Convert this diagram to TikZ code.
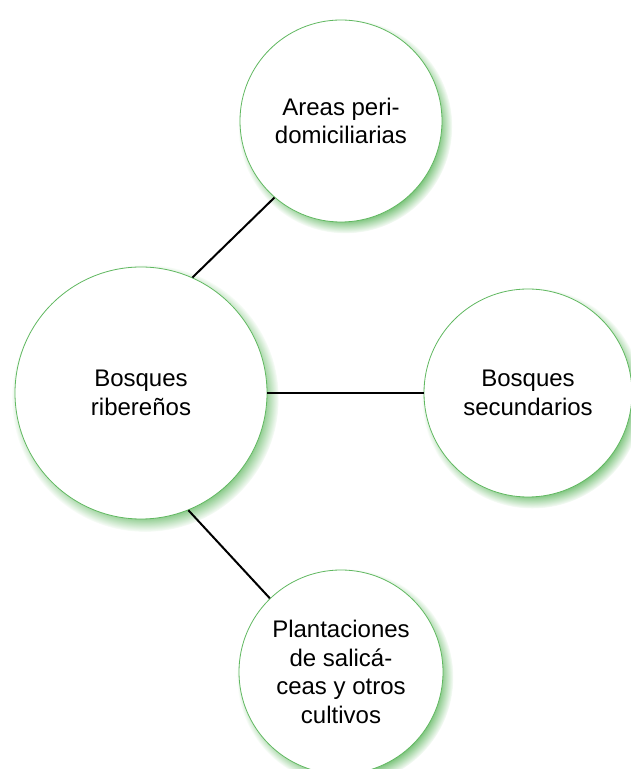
\documentclass[tikz,border=0pt]{standalone}
\usepackage{fontspec}
\setmainfont{Liberation Sans}
\usetikzlibrary{shadows,fadings}

\definecolor{rimgreen}{RGB}{96,184,96}
\definecolor{glowgreen}{RGB}{100,185,100}

\begin{document}
\begin{tikzpicture}[x=1pt,y=1pt,
    bubble/.style={shape=circle, draw=rimgreen, line width=0.8pt, fill=white,
        align=center, inner sep=0pt, font=\fontsize{24}{28.5}\selectfont,
        general shadow={fill=glowgreen, shadow xshift=4pt, shadow yshift=-5pt,
            shadow scale=1.06, path fading=circle with fuzzy edge 15 percent}},
    link/.style={-, line width=2pt, black}]
    \useasboundingbox (0,0) rectangle (630,769);

    \node[bubble, minimum size=252pt] (ribe) at (141,376) {Bosques\\ribereños};
    \node[bubble, minimum size=202pt] (peri) at (341,648) {Areas peri-\\domiciliarias};
    \node[bubble, minimum size=208pt] (secu) at (528,376) {Bosques\\secundarios};
    \node[bubble, minimum size=204pt] (plant) at (341,97) {Plantaciones\\de salicá-\\ceas y otros\\cultivos};

    \path [link] (ribe.66) edge (peri.229);
    \path [link] (ribe.east) edge (secu.west);
    \path [link] (ribe.-68) edge (plant.134);
\end{tikzpicture}
\end{document}
